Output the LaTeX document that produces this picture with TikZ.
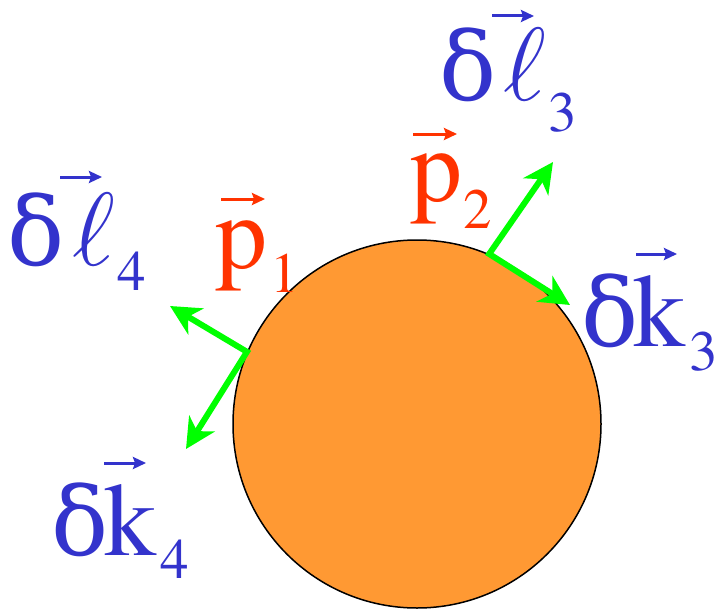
\documentclass[tikz,border=0pt]{standalone}
\usepackage{fix-cm}
\usepackage{fontspec}
\newfontfamily\lblfont{texgyretermes-regular.otf}
\newfontfamily\grkfont{DejaVu Serif}
\usetikzlibrary{arrows.meta}
\definecolor{lblblue}{RGB}{51,51,204}
\definecolor{lblred}{RGB}{255,51,0}
\definecolor{ballfill}{RGB}{255,153,51}
\definecolor{vecgreen}{RGB}{0,255,0}
\newcommand\mysub[2]{\raisebox{-#1pt}{\fontsize{57}{57}\selectfont #2}}
\newcommand\dlt{{\grkfont\fontsize{95}{95}\selectfont δ}}
\begin{document}
\begin{tikzpicture}[x=1pt,y=-1pt,
  big/.style={inner sep=0pt,outer sep=0pt,anchor=base west,font=\lblfont\fontsize{104}{104}\selectfont},
  bluelbl/.style={big,text=lblblue},
  redlbl/.style={big,text=lblred},
  bluevec/.style={lblblue,line width=3pt,-{Stealth[length=13pt,width=12pt,inset=2pt]}},
  redvec/.style={lblred,line width=3pt,-{Stealth[length=13pt,width=12pt,inset=2pt]}},
  greenvec/.style={vecgreen,line width=6pt,{Stealth[length=30pt,width=30pt,inset=9pt]}-{Stealth[length=30pt,width=30pt,inset=9pt]}}]
\useasboundingbox (0,0) rectangle (722,610);
\node[draw=black,line width=1.5pt,fill=ballfill,circle,minimum size=368pt,inner sep=0pt] (ball) at (417,424) {};
% green arrows
\coordinate (a1) at (170,306);
\coordinate (a2) at (186,449);
\coordinate (b1) at (553,162);
\coordinate (b2) at (570,305);
\draw[greenvec] (a1) -- (ball.157.8) -- (a2);
\draw[greenvec] (b1) -- (ball.67) -- (b2);
% labels
\node[bluelbl] (l4) at (8,265) {\dlt\kern7pt$\ell$\kern3pt\mysub{25}{4}};
\node[redlbl] (p1) at (215,268) {p\kern3pt\mysub{24}{1}};
\node[redlbl] (p2) at (410,201) {p\kern1pt\mysub{27}{2}};
\node[bluelbl] (l3) at (439,100) {\dlt\kern7pt$\ell$\kern3pt\mysub{31}{3}};
\node[bluelbl] (k3) at (581,346) {\dlt\kern-5pt k\kern4pt\mysub{24}{3}};
\node[bluelbl] (k4) at (51,555) {\dlt\kern-4pt k\kern4pt\mysub{23}{4}};
% vector accents
\draw[bluevec] (60,177) -- (102,177);
\draw[redvec] (221,199) -- (265,199);
\draw[redvec] (413,134) -- (457,134);
\draw[bluevec] (492,16) -- (534,16);
\draw[bluevec] (636,254) -- (677,254);
\draw[bluevec] (104,463) -- (146,463);
\end{tikzpicture}
\end{document}
